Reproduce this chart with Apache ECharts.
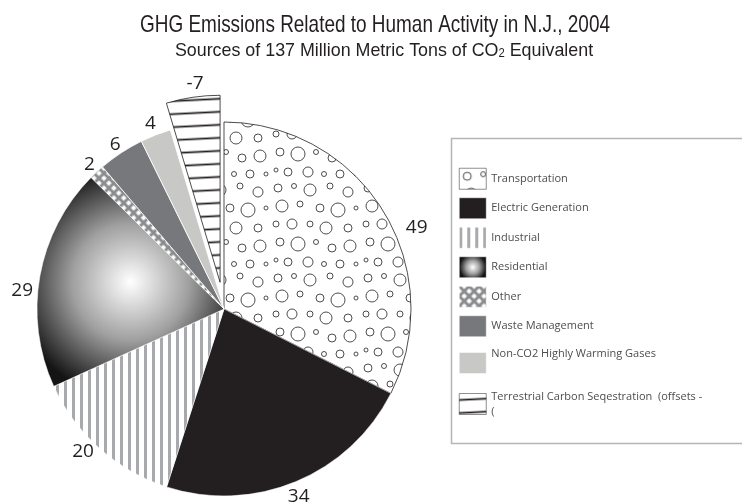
<!DOCTYPE html>
<html>
<head>
<meta charset="utf-8">
<script src="https://cdn.jsdelivr.net/npm/echarts@6/dist/echarts.min.js"></script>
<style>
html,body{margin:0;padding:0;background:#fff;}
#chart{width:742px;height:502px;}
</style>
</head>
<body>
<div id="chart"></div>
<script>
// ---- data ----
const categories = ['Transportation', 'Electric Generation', 'Industrial', 'Residential', 'Other', 'Waste Management', 'Non-CO2 Highly Warming Gases', 'Terrestrial Carbon Seqestration  (offsets -'];
const values = [49, 34, 20, 29, 2, 6, 4, -7];
const titleText = 'GHG Emissions Related to Human Activity in N.J., 2004';
const subtitleParts = ['Sources of 137 Million Metric Tons of CO', '2', ' Equivalent'];

// ---- fill patterns (style only) ----
function makeTile(w, h, draw) {
  const c = document.createElement('canvas');
  c.width = w; c.height = h;
  draw(c.getContext('2d'), w, h);
  return c;
}
const bubbleTile = makeTile(90, 90, (ctx, w, h) => {
  ctx.fillStyle = '#fff'; ctx.fillRect(0, 0, w, h);
  ctx.strokeStyle = '#231f20'; ctx.lineWidth = 0.8;
  const circ = [[8,8,4],[24,6,2.5],[40,10,6],[60,6,3],[78,12,5],[12,26,6],[30,24,3],[50,28,4],[68,30,7],[86,28,2],[6,44,3],[22,44,5],[40,44,3],[56,48,6],[78,48,4],[10,62,4],[28,64,7],[46,62,2.5],[62,68,4],[80,66,6],[6,80,2],[18,82,4],[38,82,5],[54,84,2.5],[70,84,4],[86,84,2]];
  circ.forEach(c => { ctx.beginPath(); ctx.arc(c[0], c[1], c[2], 0, Math.PI * 2); ctx.stroke(); });
});
const stripeTile = makeTile(8, 10, (ctx, w, h) => {
  ctx.fillStyle = '#fff'; ctx.fillRect(0, 0, w, h);
  ctx.fillStyle = '#a7a9ac'; ctx.fillRect(0, 0, 3, h);
});
const diamondTile = makeTile(7, 7, (ctx, w, h) => {
  ctx.fillStyle = '#8a8b8d'; ctx.fillRect(0, 0, w, h);
  ctx.fillStyle = '#fff'; ctx.fillRect(1.5, 1.5, 4, 4);
});
const hatchTile = makeTile(20, 13, (ctx, w, h) => {
  ctx.fillStyle = '#fff'; ctx.fillRect(0, 0, w, h);
  ctx.strokeStyle = '#231f20'; ctx.lineWidth = 1.8;
  ctx.beginPath(); ctx.moveTo(0, 6.5); ctx.lineTo(w, 6.5); ctx.stroke();
});

const fills = [
  { color: { image: bubbleTile, repeat: 'repeat' }, borderColor: '#231f20', borderWidth: 0.8 },
  { color: '#231f20', borderColor: '#fff', borderWidth: 0.5 },
  { color: { image: stripeTile, repeat: 'repeat' }, borderColor: '#fff', borderWidth: 0.5 },
  { color: { type: 'radial', x: 0.5, y: 0.5, r: 0.62, colorStops: [
      { offset: 0, color: '#ffffff' }, { offset: 0.5, color: '#a0a0a0' }, { offset: 1, color: '#141414' }] },
    borderColor: '#fff', borderWidth: 0.5 },
  { color: { image: diamondTile, repeat: 'repeat', rotation: Math.PI / 4 }, borderColor: '#fff', borderWidth: 0.5 },
  { color: '#77787b', borderColor: '#fff', borderWidth: 0.8 },
  { color: '#c8c8c6', borderColor: '#fff', borderWidth: 0.8 },
  { color: { image: hatchTile, repeat: 'repeat', rotation: -0.05 }, borderColor: '#231f20', borderWidth: 0.8 }
];
// label nudges and legend line heights (style only)
const labelOffsets = [[14, 22], [-12, 6], [1, -4], [3, 16], [5, 0], [5, 0], [4, -2], [12, -4]];
const legendLineHeights = [15, 15, 15, 15, 15, 15, 18, 15];

const pieData = categories.map((name, i) => ({
  name: name,
  value: Math.abs(values[i]),
  shown: values[i],
  selected: values[i] < 0,
  itemStyle: fills[i],
  label: { offset: labelOffsets[i] },
  select: { itemStyle: fills[i], label: { offset: labelOffsets[i] } }
}));

const chart = echarts.init(document.getElementById('chart'), null, { renderer: 'canvas' });
chart.setOption({
  backgroundColor: '#fff',
  animation: false,
  graphic: [{
    type: 'text', x: 375, y: 25, scaleX: 0.79, silent: true,
    style: { text: titleText, fill: '#231f20', font: '24px "Liberation Sans"', textAlign: 'center', textVerticalAlign: 'middle' }
  }, {
    type: 'text', x: 384, y: 51, scaleX: 0.94, silent: true,
    style: {
      text: '{a|' + subtitleParts[0] + '}{s|' + subtitleParts[1] + '}{a|' + subtitleParts[2] + '}',
      textAlign: 'center', textVerticalAlign: 'middle',
      rich: {
        a: { fontFamily: 'Liberation Sans', fontSize: 19, fill: '#231f20', color: '#231f20' },
        s: { fontFamily: 'Liberation Sans', fontSize: 12, fill: '#231f20', color: '#231f20', padding: [6, 0, 0, 0] }
      }
    }
  }, {
    type: 'rect', left: 449, top: 136,
    shape: { width: 400, height: 305 },
    style: { fill: 'none', stroke: '#b5b5b5', lineWidth: 1.5 },
    silent: true
  }],
  legend: {
    orient: 'vertical',
    left: 459, top: 168,
    padding: 0,
    itemWidth: 27, itemHeight: 21, itemGap: 8,
    selectedMode: false,
    icon: 'rect',
    itemStyle: { borderWidth: 0.5 },
    formatter: function (name) {
      if (name.indexOf('Terrestrial') === 0) return name + '\n(';
      if (name.indexOf('Non-CO2') === 0) return name + '\n ';
      return name;
    },
    textStyle: { fontFamily: 'Open Sans', fontSize: 11, color: '#4d4d4f', lineHeight: 15 },
    data: categories.map((name, i) => ({ name: name, textStyle: { lineHeight: legendLineHeights[i] } }))
  },
  series: [{
    type: 'pie',
    center: [224, 309],
    radius: 187,
    startAngle: 90,
    clockwise: true,
    selectedMode: 'single',
    selectedOffset: 27,
    avoidLabelOverlap: false,
    emphasis: { disabled: true },
    label: {
      show: true,
      position: 'outside',
      formatter: function (p) { return String(p.data.shown); },
      fontFamily: 'Open Sans',
      fontSize: 19,
      color: '#231f20',
      distanceToLabelLine: 0
    },
    labelLine: { show: false, length: 10, length2: 0 },
    data: pieData
  }]
});
</script>
</body>
</html>
